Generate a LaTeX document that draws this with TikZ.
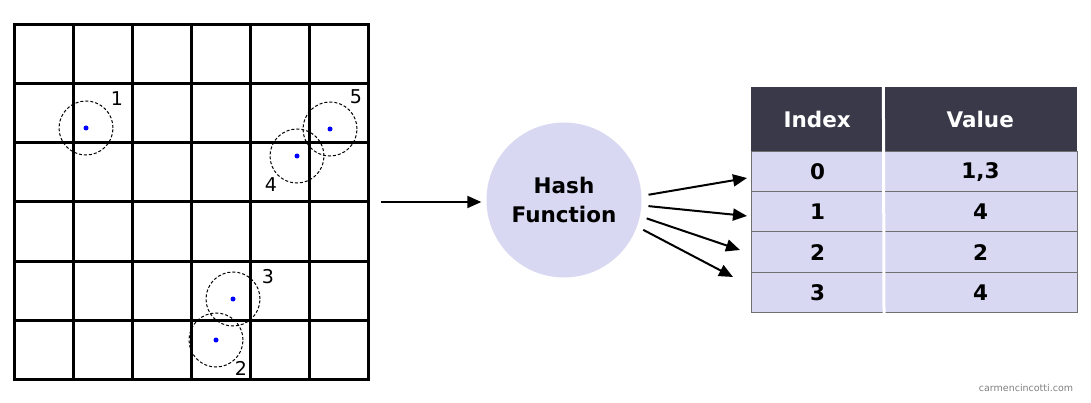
\documentclass[tikz,border=0pt]{standalone}
\usepackage{fontspec}
\setmainfont{DejaVu Sans}
\usetikzlibrary{arrows.meta}
\definecolor{lavender}{RGB}{216,216,242}
\definecolor{headdark}{RGB}{58,57,74}
\definecolor{rowline}{RGB}{112,112,112}
\tikzset{
  gridline/.style={line width=3pt, line cap=rect},
  zone/.style={circle, draw, dash pattern=on 3pt off 2pt, line width=1pt, minimum size=54pt, inner sep=0pt},
  pointdot/.style={circle, fill=blue, inner sep=0pt, minimum size=5pt},
  ptlabel/.style={font=\fontsize{19}{22}\selectfont},
  hasharrow/.style={line width=2pt, -{Triangle[length=14pt,width=12pt]}},
  cellfont/.style={font=\fontsize{21.5}{26}\selectfont\bfseries},
  headcell/.style={cellfont, fill=headdark, text=white, minimum height=64pt, inner sep=0pt, anchor=north west},
  rowcell/.style={cellfont, fill=lavender, draw=rowline, line width=1pt, minimum height=40.25pt, inner sep=0pt, anchor=north west}
}

\begin{document}
\begin{tikzpicture}[x=1pt, y=-1pt]
\useasboundingbox (0,0) rectangle (1091,403);
\foreach \i in {0,...,6} {
    \draw[gridline] ({14+59*\i},25) -- ({14+59*\i},379);
    \draw[gridline] (14,{25+59*\i}) -- (368,{25+59*\i});
}
\foreach \n/\x/\y/\lx/\ly in {1/86/128/117/99, 2/216/340/241/368, 3/233/299/268/277, 4/297/156/271/185, 5/330/129/356/97} {
    \node[zone] (zone\n) at (\x,\y) {};
    \node[pointdot] (pt\n) at (zone\n.center) {};
    \node[ptlabel] (lbl\n) at (\lx,\ly) {\n};
}
\coordinate (gridout) at (381,202);
\node[circle, fill=lavender, minimum size=155pt, inner sep=0pt, align=center, font=\fontsize{21.5}{29}\selectfont\bfseries] (hash) at (564,200) {Hash\\Function};
\draw[hasharrow, shorten >=5pt] (gridout) -- (gridout -| hash.west);

\node[headcell, minimum width=132pt] (hindex) at (751,87) {Index};
\node[headcell, minimum width=194pt] (hvalue) at (883,87) {Value};
\foreach \r/\v in {0/{1,3}, 1/4, 2/2, 3/4} {
    \node[rowcell, minimum width=132pt] (idx\r) at (751,{151+40.25*\r}) {\r};
    \node[rowcell, minimum width=194pt] (val\r) at (883,{151+40.25*\r}) {\v};
}
\draw[white, line width=3pt] (hindex.north east) -- (idx3.south east);

\coordinate (t0) at (747,178);
\coordinate (t1) at (747,216);
\coordinate (t2) at (740,250);
\coordinate (t3) at (733,277);
\draw[hasharrow, shorten <=7pt] (hash.3) -- (t0);
\draw[hasharrow, shorten <=7pt] (hash.-4) -- (t1);
\draw[hasharrow, shorten <=7pt] (hash.-12) -- (t2);
\draw[hasharrow, shorten <=7pt] (hash.-20) -- (t3);

\node[text=gray, font=\fontsize{9.5}{12}\selectfont] (credit) at (1026,388) {carmencincotti.com};
\end{tikzpicture}
\end{document}
